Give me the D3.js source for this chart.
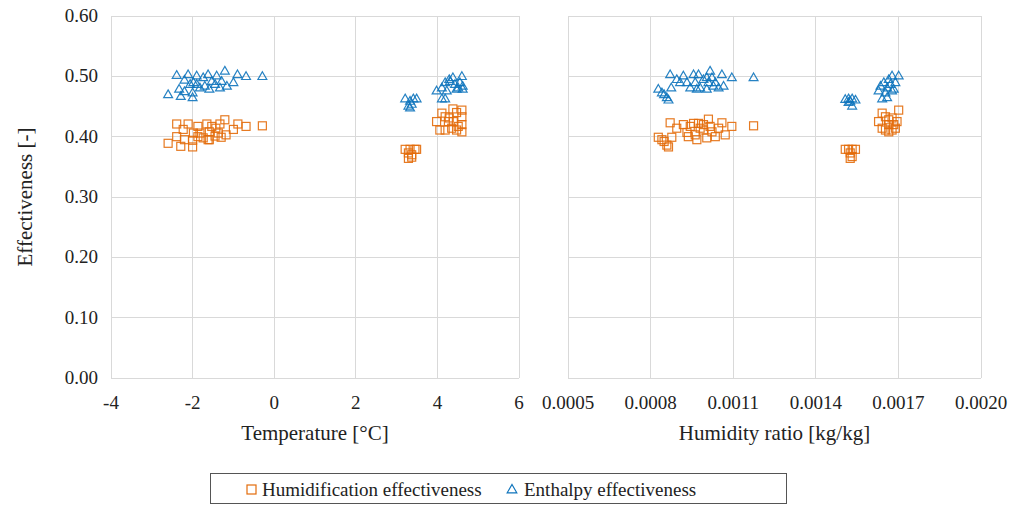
<!DOCTYPE html>
<html><head><meta charset="utf-8">
<script src="https://cdn.jsdelivr.net/npm/d3@7"></script>
</head><body style="margin:0;background:#fff">
<svg id="c" width="1024" height="507" font-family="Liberation Serif" style="display:block">
<text id="ytitle" x="0" y="0" font-family="Liberation Serif" font-size="21" fill="#222" text-anchor="middle" transform="translate(32,197) rotate(-90)">Effectiveness [-]</text>
</svg>
<script>
// ---- data ----
const yTicks = [0, 0.1, 0.2, 0.3, 0.4, 0.5, 0.6];
const tTicks = [-4, -2, 0, 2, 4, 6];
const wTicks = [0.0005, 0.0008, 0.0011, 0.0014, 0.0017, 0.0020];

// Left panel: temperature vs effectiveness
const humT = [-2.60,-2.39,-2.29,-2.23,-2.39,-2.20,-2.11,-2.00,-2.00,-1.98,-1.87,-1.82,-1.74,-1.65,-1.62,-1.59,-1.53,-1.43,-1.37,-1.30,-1.21,-1.18,-1.00,-0.89,-0.69,-0.29,-1.59,-1.87,-1.45,-1.33,
  3.21,3.33,3.45,3.49,3.29,3.37,3.29,3.37,
  3.98,4.11,4.19,4.29,4.38,4.47,4.60,4.60,4.06,4.19,4.35,4.47,4.60,4.51,4.27,4.60,4.39];
const humTE = [0.389,0.421,0.384,0.412,0.400,0.395,0.421,0.383,0.394,0.406,0.417,0.406,0.398,0.421,0.395,0.408,0.417,0.414,0.406,0.399,0.428,0.403,0.412,0.421,0.417,0.418,0.395,0.400,0.401,0.421,
  0.379,0.379,0.379,0.379,0.373,0.370,0.364,0.366,
  0.425,0.439,0.433,0.431,0.446,0.440,0.444,0.433,0.411,0.411,0.414,0.411,0.408,0.417,0.425,0.420,0.425];
const entT = [-2.60,-2.39,-2.33,-2.29,-2.20,-2.20,-2.11,-2.00,-1.98,-1.90,-1.82,-1.74,-1.62,-1.59,-1.53,-1.41,-1.33,-1.29,-1.21,-1.16,-1.00,-0.90,-0.69,-0.29,-1.90,-1.70,-1.45,-2.06,-2.00,
  3.21,3.33,3.41,3.49,3.29,3.37,3.33,
  3.98,4.11,4.19,4.23,4.29,4.38,4.43,4.47,4.55,4.60,4.62,4.62,4.11,4.19,4.31,4.51];
const entTE = [0.469,0.501,0.478,0.466,0.474,0.493,0.502,0.464,0.489,0.500,0.480,0.497,0.502,0.478,0.491,0.500,0.480,0.491,0.508,0.483,0.489,0.502,0.499,0.499,0.486,0.483,0.486,0.486,0.472,
  0.462,0.458,0.462,0.462,0.450,0.453,0.447,
  0.475,0.480,0.489,0.475,0.494,0.497,0.486,0.478,0.489,0.499,0.483,0.478,0.462,0.462,0.491,0.480];

// Right panel: humidity ratio vs effectiveness
const humW = [0.000828,0.000841,0.000849,0.000859,0.000865,0.000871,0.000877,0.000895,0.000919,0.000932,0.000944,0.000956,0.000962,0.000974,0.000980,0.000992,0.001004,0.001010,0.001016,0.001023,0.001035,0.001047,0.001059,0.001071,0.001095,0.001174,0.000937,0.000968,0.000992,
  0.001507,0.001519,0.001532,0.001544,0.001525,0.001532,0.001525,
  0.001628,0.001641,0.001653,0.001665,0.001677,0.001683,0.001695,0.001701,0.001641,0.001653,0.001665,0.001677,0.001689,0.001665];
const humWE = [0.399,0.395,0.392,0.386,0.383,0.423,0.399,0.414,0.420,0.407,0.417,0.422,0.403,0.422,0.414,0.411,0.398,0.429,0.417,0.408,0.400,0.414,0.423,0.403,0.417,0.418,0.400,0.395,0.420,
  0.379,0.379,0.379,0.379,0.373,0.367,0.364,
  0.425,0.439,0.433,0.428,0.431,0.420,0.425,0.444,0.414,0.411,0.408,0.411,0.414,0.420];
const entW = [0.000828,0.000841,0.000849,0.000859,0.000865,0.000871,0.000875,0.000895,0.000919,0.000932,0.000944,0.000956,0.000962,0.000974,0.000980,0.000992,0.001004,0.001010,0.001016,0.001023,0.001028,0.001035,0.001047,0.001059,0.001065,0.001095,0.001174,0.000907,0.000968,0.001004,
  0.001507,0.001519,0.001532,0.001544,0.001519,0.001532,0.001525,
  0.001628,0.001635,0.001647,0.001653,0.001659,0.001665,0.001671,0.001677,0.001683,0.001689,0.001701,0.001641,0.001659,0.001677];
const entWE = [0.478,0.472,0.469,0.464,0.460,0.502,0.480,0.494,0.500,0.489,0.480,0.502,0.489,0.502,0.480,0.494,0.478,0.489,0.508,0.497,0.483,0.489,0.480,0.502,0.483,0.497,0.497,0.489,0.478,0.497,
  0.461,0.462,0.462,0.460,0.456,0.450,0.458,
  0.475,0.483,0.489,0.472,0.480,0.494,0.486,0.500,0.478,0.489,0.500,0.462,0.464,0.475];

const seriesNames = ["Humidification effectiveness", "Enthalpy effectiveness"];

// ---- drawing ----
const ORANGE = "#E36C0A", BLUE = "#0E74BC", GRID = "#d9d9d9", TXT = "#222";
const FONT = "Liberation Serif";
const svg = d3.select("#c");
const y = d3.scaleLinear().domain([0, 0.6]).range([378, 16]);
const xT = d3.scaleLinear().domain([-4, 6]).range([111, 519]);
const xW = d3.scaleLinear().domain([0.0005, 0.0020]).range([568, 981]);

function addText(parent, x, yy, str, size, anchor) {
  return parent.append("text").attr("x", x).attr("y", yy)
    .attr("font-family", FONT).attr("font-size", size).attr("fill", TXT)
    .attr("text-anchor", anchor || "start").text(str);
}

function panel(x, ticks, fmt, title, hx, hy, ex, ey) {
  const g = svg.append("g");
  const [x0, x1] = x.range();
  g.selectAll(".hg").data(yTicks).join("line")
    .attr("x1", x0).attr("x2", x1).attr("y1", d => y(d)).attr("y2", d => y(d))
    .attr("stroke", GRID).attr("stroke-width", 1).attr("shape-rendering", "crispEdges");
  g.selectAll(".vg").data(ticks).join("line")
    .attr("x1", d => x(d)).attr("x2", d => x(d)).attr("y1", y(0)).attr("y2", y(0.6))
    .attr("stroke", GRID).attr("stroke-width", 1).attr("shape-rendering", "crispEdges");
  g.selectAll(".xl").data(ticks).join("text")
    .attr("x", d => x(d)).attr("y", 409).attr("text-anchor", "middle")
    .attr("font-family", FONT).attr("font-size", 19).attr("fill", TXT)
    .text(fmt);
  addText(g, (x0 + x1) / 2, 440, title, 21, "middle");
  const sq = 8;
  g.selectAll(".sq").data(d3.range(hx.length)).join("rect")
    .attr("x", i => x(hx[i]) - sq / 2).attr("y", i => y(hy[i]) - sq / 2)
    .attr("width", sq).attr("height", sq)
    .attr("fill", "none").attr("stroke", ORANGE).attr("stroke-width", 1.2).attr("stroke-opacity", 0.9);
  const tri = d3.symbol().type(d3.symbolTriangle).size(34);
  g.selectAll(".tr").data(d3.range(ex.length)).join("path")
    .attr("d", tri).attr("transform", i => `translate(${x(ex[i])},${y(ey[i])})`)
    .attr("fill", "none").attr("stroke", BLUE).attr("stroke-width", 1.2).attr("stroke-opacity", 0.9);
}

panel(xT, tTicks, d => String(d), "Temperature [°C]", humT, humTE, entT, entTE);
panel(xW, wTicks, d => d.toFixed(4), "Humidity ratio [kg/kg]", humW, humWE, entW, entWE);

svg.append("g").selectAll("text").data(yTicks).join("text")
  .attr("x", 98).attr("y", d => y(d) + 6).attr("text-anchor", "end")
  .attr("font-family", FONT).attr("font-size", 19).attr("fill", TXT)
  .text(d => d.toFixed(2));
d3.select("#ytitle").attr("transform", `translate(32,${(y(0) + y(0.6)) / 2}) rotate(-90)`).raise();

const lg = svg.append("g");
lg.append("rect").attr("x", 210.5).attr("y", 473.5).attr("width", 576).attr("height", 30)
  .attr("fill", "#fff").attr("stroke", "#555").attr("stroke-width", 1);
lg.append("rect").attr("x", 247).attr("y", 485).attr("width", 9).attr("height", 9)
  .attr("fill", "none").attr("stroke", ORANGE).attr("stroke-width", 1.2);
addText(lg, 262, 496, seriesNames[0], 19);
lg.append("path").attr("d", d3.symbol().type(d3.symbolTriangle).size(40))
  .attr("transform", "translate(512,490)").attr("fill", "none").attr("stroke", BLUE).attr("stroke-width", 1.2);
addText(lg, 524, 496, seriesNames[1], 19);
</script></body></html>
